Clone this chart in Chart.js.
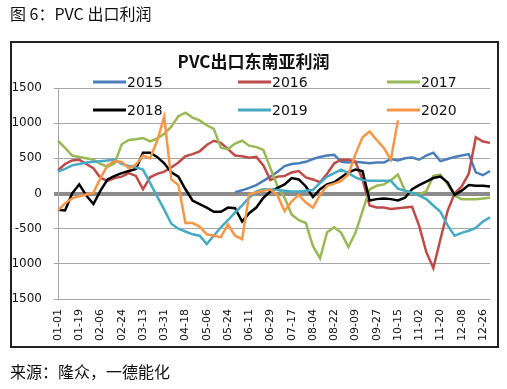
<!DOCTYPE html>
<html>
<head>
<meta charset="utf-8">
<script src="https://cdn.jsdelivr.net/npm/chart.js@4.4.0/dist/chart.umd.min.js"></script>
<style>
  body { margin: 0; background: #fff; }
  #page { position: relative; width: 507px; height: 389px; overflow: hidden; font-family: "Noto Sans CJK SC", sans-serif; }
  #chart { position: absolute; left: 0; top: 0; }
  .caption { position: absolute; left: 10px; font-size: 16px; line-height: 20px; color: #111; white-space: nowrap; }
  #frame { position: absolute; left: 10px; top: 41px; width: 485px; height: 303px; border: 2px solid #222; pointer-events: none; }
  #chartTitle { position: absolute; left: 0; width: 507px; top: 50px; text-align: center; font-size: 17px; font-weight: bold; line-height: 22px; color: #111; }
</style>
</head>
<body>
<div id="page">
  <canvas id="chart" width="507" height="389"></canvas>
  <div id="frame"></div>
  <div class="caption" style="top:3px">图 6：PVC 出口利润</div>
  <div id="chartTitle">PVC出口东南亚利润</div>
  <div class="caption" style="top:361px">来源：隆众，一德能化</div>
</div>
<script>
// sample dates (leap-year calendar, every 6 days)
const dates = ['01-01','01-07','01-13','01-19','01-25','01-31','02-06','02-12','02-18','02-24',
  '03-01','03-07','03-13','03-19','03-25','03-31','04-06','04-12','04-18','04-24','04-30',
  '05-06','05-12','05-18','05-24','05-30','06-05','06-11','06-17','06-23','06-29',
  '07-05','07-11','07-17','07-23','07-29','08-04','08-10','08-16','08-22','08-28',
  '09-03','09-09','09-15','09-21','09-27','10-03','10-09','10-15','10-21','10-27',
  '11-02','11-08','11-14','11-20','11-26','12-02','12-08','12-14','12-20','12-26','12-31'];

const y2015 = [null,null,null,null,null,null,null,null,null,null,null,null,null,null,null,null,
  null,null,null,null,null,null,null,null,null,
  20,45,80,120,180,240,310,390,420,430,450,490,520,540,550,450,440,450,440,430,440,440,490,
  470,500,510,480,540,580,460,490,520,540,560,300,260,320];
const y2016 = [330,420,470,480,420,360,220,180,220,240,290,250,60,230,280,310,370,440,530,560,
  600,690,750,720,630,540,530,510,520,400,190,240,250,300,320,230,200,160,280,430,480,480,
  450,200,-170,-200,-200,-220,-210,-200,-190,-460,-830,-1060,-650,-250,0,100,280,800,740,720];
const y2017 = [750,650,540,520,500,480,420,380,430,700,760,770,790,740,780,850,950,1100,1150,
  1080,1040,970,920,650,630,710,750,680,660,620,360,100,-60,-300,-380,-420,-750,-920,-550,
  -480,-560,-760,-560,-250,60,110,130,190,270,40,0,-10,30,250,270,130,-30,-80,-80,-80,-70,-60];
const y2018 = [-230,-240,0,130,-30,-150,40,200,250,290,320,350,580,580,520,430,300,240,60,-100,
  -150,-200,-260,-260,-200,-210,-400,-280,-200,-60,30,80,130,220,200,100,-50,60,130,160,230,300,
  340,320,-100,-80,-70,-80,-100,-60,60,120,170,220,240,160,-20,40,120,110,110,100];
const y2019 = [310,350,400,420,440,450,460,470,480,420,390,370,340,150,-40,-230,-430,-500,-540,
  -580,-600,-720,-600,-480,-380,-270,-170,-60,30,60,60,50,40,30,30,40,50,150,240,290,340,
  290,230,190,180,180,180,180,70,40,10,-30,-80,-170,-260,-450,-600,-560,-530,-490,-400,-340];
const y2020 = [-240,-140,-70,-40,-15,10,220,400,460,450,360,410,540,500,750,1090,200,120,-420,
  -420,-470,-580,-600,-620,-440,-600,-650,-10,20,40,60,-30,-250,-110,-20,-130,-200,-20,110,140,
  180,270,560,800,880,760,650,480,1040,null,null,null,null,null,null,null,null,null,null,null,null,null];

const seriesNames = ['2015', '2016', '2017', '2018', '2019', '2020'];
const seriesValues = [y2015, y2016, y2017, y2018, y2019, y2020];
const seriesColors = ['#4A7EBB', '#BE4B48', '#98B954', '#000000', '#46AAC5', '#F79646'];
const yTicks = [-1500, -1000, -500, 0, 500, 1000, 1500];

// legend laid out in a 3 x 2 grid over the top of the plot
const legendCols = [93, 238, 387];
const legendRows = [82, 110];
const gridLegend = {
  id: 'gridLegend',
  afterDatasetsDraw(chart) {
    const c = chart.ctx;
    c.save();
    c.font = '14px "DejaVu Sans"';
    c.textBaseline = 'middle';
    chart.data.datasets.forEach((ds, i) => {
      const x = legendCols[i % 3];
      const y = legendRows[Math.floor(i / 3)];
      c.strokeStyle = ds.borderColor;
      c.lineWidth = 3;
      c.beginPath();
      c.moveTo(x, y);
      c.lineTo(x + 33, y);
      c.stroke();
      c.fillStyle = '#111';
      c.fillText(ds.label, x + 34, y + 1);
    });
    c.restore();
  }
};

new Chart(document.getElementById('chart'), {
  type: 'line',
  data: {
    labels: dates,
    datasets: seriesNames.map((name, i) => ({
      label: name,
      data: seriesValues[i],
      borderColor: seriesColors[i],
      backgroundColor: seriesColors[i],
      borderWidth: 2.5,
      pointRadius: 0,
      tension: 0,
      fill: false,
      order: seriesNames.length - i
    }))
  },
  options: {
    responsive: false,
    animation: false,
    layout: { padding: { left: 11, top: 88, right: 17, bottom: 42 } },
    plugins: { legend: { display: false }, tooltip: { enabled: false } },
    scales: {
      x: {
        grid: { display: false, drawTicks: false },
        border: { display: false },
        ticks: {
          autoSkip: false,
          minRotation: 90,
          maxRotation: 90,
          padding: 10,
          color: '#111',
          font: { family: 'DejaVu Sans', size: 11 },
          callback: (v, i) => (i % 3 === 0 && i <= 60 ? dates[i] : null)
        },
        afterFit: (s) => { s.height = 48; }
      },
      y: {
        min: -1500,
        max: 1500,
        afterBuildTicks: (s) => { s.ticks = yTicks.map(v => ({ value: v })); },
        ticks: {
          padding: 12,
          color: '#111',
          font: { family: 'DejaVu Sans', size: 12 },
          callback: (v) => String(v)
        },
        grid: {
          color: (c) => (c.tick && c.tick.value === 0 ? '#8C8C8C' : '#A6A6A6'),
          lineWidth: (c) => (c.tick && c.tick.value === 0 ? 4 : 1),
          tickLength: 4
        },
        border: { color: '#A6A6A6' },
        afterFit: (s) => { s.width = 47; }
      }
    }
  },
  plugins: [gridLegend]
});
</script>
</body>
</html>
